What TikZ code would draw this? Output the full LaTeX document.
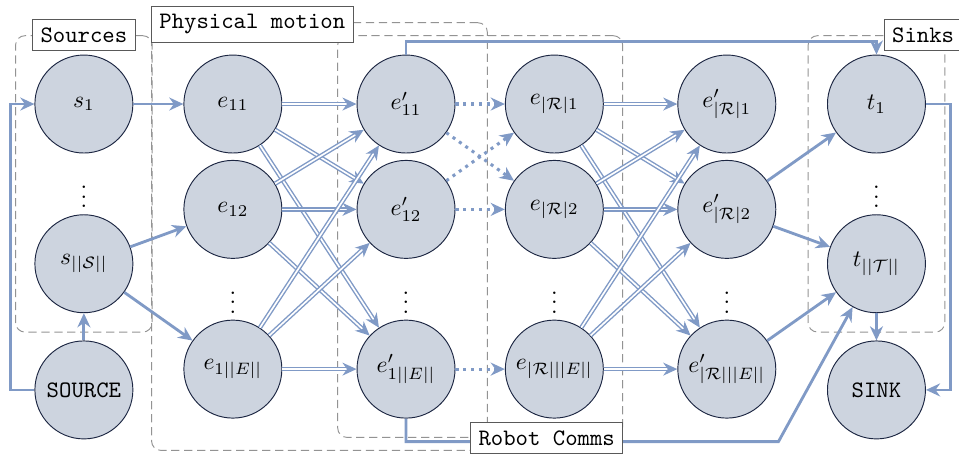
\documentclass[tikz,border=0pt]{standalone}
\usepackage{amsmath,amssymb}
\usetikzlibrary{positioning,arrows.meta,fit,calc,backgrounds}
\definecolor{flowblue}{RGB}{128,154,198}
\definecolor{statefill}{RGB}{205,212,223}
\definecolor{stateline}{RGB}{28,38,66}

\begin{document}
\begin{tikzpicture}[
  state/.style={circle,draw=stateline,fill=statefill,minimum size=1.46cm,inner sep=1pt},
  group/.style={draw=gray!85,dash pattern=on 3.5pt off 2pt,rounded corners=4pt,inner sep=#1},
  tag/.style={draw=gray!70!black,fill=white,font=\ttfamily},
  flow/.style={-{Stealth[length=6pt,width=5.5pt]},line width=1.2pt,flowblue},
  move/.style={-{Stealth[length=6pt,width=5.5pt]},flowblue,line width=0.6pt,double=white,double distance=0.7pt},
  comm/.style={-{Stealth[length=6pt,width=5.5pt]},flowblue,line width=1.3pt,dotted},
]
\useasboundingbox (0,0) rectangle (14.29,6.83);

% Sources
\node[state] (s1) at (1.25,5.28) {$s_1$};
\node (sdots) at (1.25,4.0) {$\vdots$};
\node[state] (sS) at (1.25,2.9) {$s_{||\mathcal{S}||}$};
\node[state] (source) at (1.25,1.02) {\texttt{SOURCE}};

% Physical motion, first robot
\node[state] (e11) at (3.47,5.28) {$e_{11}$};
\node[state] (e12) at (3.47,3.71) {$e_{12}$};
\node (edots) at (3.47,2.43) {$\vdots$};
\node[state] (e1E) at (3.47,1.33) {$e_{1||E||}$};

\node[state] (ep11) at (6.05,5.28) {$e'_{11}$};
\node[state] (ep12) at (6.05,3.71) {$e'_{12}$};
\node (epdots) at (6.05,2.43) {$\vdots$};
\node[state] (ep1E) at (6.05,1.33) {$e'_{1||E||}$};

% Last robot
\node[state] (eR1) at (8.26,5.28) {$e_{|\mathcal{R}|1}$};
\node[state] (eR2) at (8.26,3.71) {$e_{|\mathcal{R}|2}$};
\node (eRdots) at (8.26,2.43) {$\vdots$};
\node[state] (eRE) at (8.26,1.33) {$e_{|\mathcal{R}|||E||}$};

\node[state] (epR1) at (10.83,5.28) {$e'_{|\mathcal{R}|1}$};
\node[state] (epR2) at (10.83,3.71) {$e'_{|\mathcal{R}|2}$};
\node (epRdots) at (10.83,2.43) {$\vdots$};
\node[state] (epRE) at (10.83,1.33) {$e'_{|\mathcal{R}|||E||}$};

% Sinks
\node[state] (t1) at (13.06,5.28) {$t_1$};
\node (tdots) at (13.06,4.0) {$\vdots$};
\node[state] (tT) at (13.06,2.9) {$t_{||\mathcal{T}||}$};
\node[state] (sink) at (13.06,1.02) {\texttt{SINK}};

% Dashed groups
\begin{scope}[on background layer]
\node[group=8pt,fit=(s1)(sS)] (srcbox) {};
\node[group=13.5pt,fit=(e11)(e1E)(ep11)(ep1E)] (physbox) {};
\node[group=8pt,fit=(ep11)(ep1E)(eR1)(eRE)] (commbox) {};
\node[group=8pt,fit=(t1)(tT)] (sinkbox) {};
\end{scope}

% Source and sink wiring
\draw[flow] (source.west) -- ++(-0.36,0) |- (s1.west);
\draw[flow] (source) -- (sS);
\draw[flow] (s1) -- (e11);
\draw[flow] (sS) -- (e12);
\draw[flow] (sS) -- (e1E);
\draw[flow] (epR2) -- (t1);
\draw[flow] (epR2) -- (tT);
\draw[flow] (epRE) -- (tT);
\draw[flow] (tT) -- (sink);
\draw[flow] (t1.east) -- ++(0.37,0) |- (sink.east);
\draw[flow] (ep11.north) -- ++(0,0.19) -| (t1.north);
\coordinate (kink) at (11.6,0.25);
\draw[flow] (ep1E.south) |- (kink) -- (tT);

% Motion transitions
\foreach \a in {e11,e12,e1E}
  \foreach \b in {ep11,ep12,ep1E}
    \draw[move] (\a) -- (\b);
\foreach \a in {eR1,eR2,eRE}
  \foreach \b in {epR1,epR2,epRE}
    \draw[move] (\a) -- (\b);

% Communication links
\draw[comm] (ep11) -- (eR1);
\draw[comm] (ep11) -- (eR2);
\draw[comm] (ep12) -- (eR1);
\draw[comm] (ep12) -- (eR2);
\draw[comm] (ep1E) -- (eRE);

% Group labels
\node[tag] at (srcbox.north) {Sources};
\node[tag,anchor=west] at ($(physbox.north west)+(0,-0.03)$) {Physical motion};
\node[tag,anchor=east] at (commbox.south east) {Robot Comms};
\node[tag] at ($(sinkbox.north east)+(-0.33,0)$) {Sinks};

\end{tikzpicture}
\end{document}
